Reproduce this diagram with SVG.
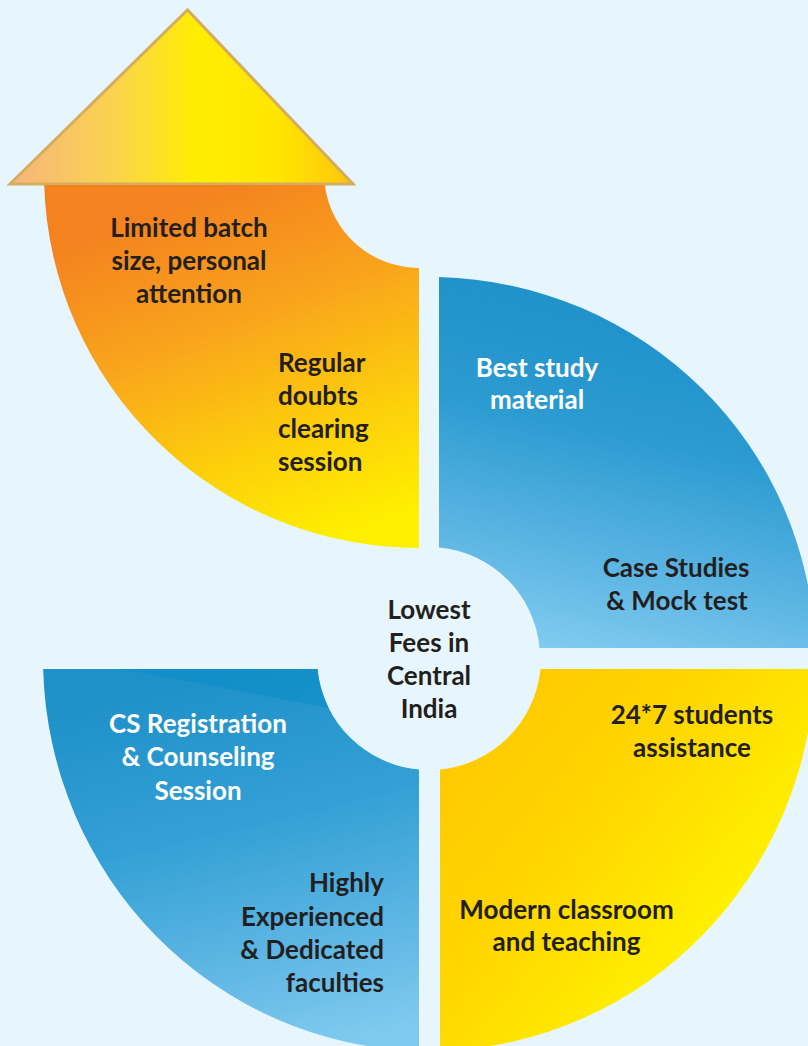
<svg xmlns="http://www.w3.org/2000/svg" width="808" height="1046" viewBox="0 0 808 1046">
<defs>
<style>
.t{font-family:Lato,"Liberation Sans",sans-serif;font-weight:700;font-size:26px;fill:#231f20}
.w{fill:#ffffff}
.c{text-anchor:middle}
.r{text-anchor:end}
</style>
<linearGradient id="gTri" gradientUnits="userSpaceOnUse" x1="8" y1="0" x2="355" y2="0">
<stop offset="0" stop-color="#f5b57f"/>
<stop offset="0.3" stop-color="#fbd24f"/>
<stop offset="0.55" stop-color="#ffee00"/>
<stop offset="0.78" stop-color="#ffe500"/>
<stop offset="1" stop-color="#ffc40c"/>
</linearGradient>
<linearGradient id="gTL" gradientUnits="userSpaceOnUse" x1="200" y1="195" x2="330" y2="545">
<stop offset="0" stop-color="#f4821f"/>
<stop offset="0.35" stop-color="#f9a41c"/>
<stop offset="0.7" stop-color="#fdcf0b"/>
<stop offset="1" stop-color="#fff000"/>
</linearGradient>
<linearGradient id="gTR" gradientUnits="userSpaceOnUse" x1="620" y1="280" x2="540" y2="645">
<stop offset="0" stop-color="#1e90c8"/>
<stop offset="0.4" stop-color="#2b9bd1"/>
<stop offset="0.75" stop-color="#5cb5e3"/>
<stop offset="1" stop-color="#80cbef"/>
</linearGradient>
<linearGradient id="gBL" gradientUnits="userSpaceOnUse" x1="230" y1="670" x2="320" y2="1045">
<stop offset="0" stop-color="#1f91c9"/>
<stop offset="0.4" stop-color="#33a0d5"/>
<stop offset="0.8" stop-color="#65bae6"/>
<stop offset="1" stop-color="#7ecaee"/>
</linearGradient>
<linearGradient id="gBR" gradientUnits="userSpaceOnUse" x1="450" y1="700" x2="720" y2="920">
<stop offset="0" stop-color="#ffc700"/>
<stop offset="0.5" stop-color="#ffd500"/>
<stop offset="1" stop-color="#fff000"/>
</linearGradient>
</defs>
<rect x="0" y="0" width="808" height="1046" fill="#e7f6fd"/>

<g id="node-arrow-head">
<polygon points="10,184 187.5,10 353,184" fill="url(#gTri)" stroke="#d6ad5e" stroke-width="3" stroke-linejoin="miter"/>
</g>

<g id="node-top-left">
<path d="M44.2,185 L324.8,185 A95 95 0 0 0 419,268 L419,548 A375 375 0 0 1 44.2,185 Z" fill="url(#gTL)"/>
<text class="t c" x="189" y="237">Limited batch</text>
<text class="t c" x="189" y="270">size, personal</text>
<text class="t c" x="189" y="303">attention</text>
<text class="t" x="278" y="372">Regular</text>
<text class="t" x="278" y="405">doubts</text>
<text class="t" x="278" y="438">clearing</text>
<text class="t" x="278" y="471">session</text>
</g>

<g id="node-top-right">
<path d="M439,277.1 A386 381 0 0 1 814.9,648 L539.5,648 A111 111 0 0 0 439,547.5 Z" fill="url(#gTR)"/>
<text class="t w c" x="537" y="377">Best study</text>
<text class="t w c" x="537" y="409">material</text>
<text class="t c" x="676" y="577">Case Studies</text>
<text class="t c" x="677" y="610">&amp; Mock test</text>
</g>

<g id="node-bottom-right">
<path d="M540.5,669 L814.85,669 A386 393 0 0 1 440,1050.8 L440,769.5 A112 112 0 0 0 540.5,669 Z" fill="url(#gBR)"/>
<text class="t c" x="692" y="724">24*7 students</text>
<text class="t c" x="692" y="757">assistance</text>
<text class="t c" x="566.5" y="919">Modern classroom</text>
<text class="t c" x="566.5" y="951">and teaching</text>
</g>

<g id="node-bottom-left">
<path d="M43.15,669 L317.5,669 A112 112 0 0 0 419,769.6 L419,1050.9 A386 393 0 0 1 43.15,669 Z" fill="url(#gBL)"/>
<path d="M123,669 L317.5,669 A112 112 0 0 0 328.8,708 Z" fill="#0a8cc7" opacity="0.55"/>
<text class="t w c" x="198" y="733">CS Registration</text>
<text class="t w c" x="198" y="766">&amp; Counseling</text>
<text class="t w c" x="198" y="800">Session</text>
<text class="t r" x="384" y="892">Highly</text>
<text class="t r" x="384" y="926">Experienced</text>
<text class="t r" x="384" y="959">&amp; Dedicated</text>
<text class="t r" x="384" y="992">faculties</text>
</g>

<g id="node-center">
<text class="t c" x="429" y="619">Lowest</text>
<text class="t c" x="429" y="652">Fees in</text>
<text class="t c" x="429" y="685">Central</text>
<text class="t c" x="429" y="718">India</text>
</g>

<g id="connectors"></g>
</svg>
